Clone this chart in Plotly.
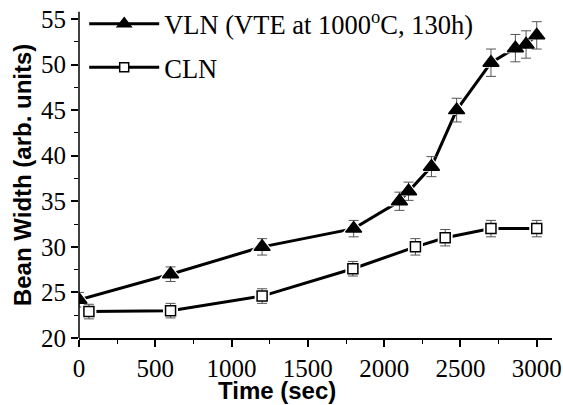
import plotly.graph_objects as go

vln_x = [0, 600, 1200, 1800, 2100, 2160, 2310, 2475, 2700, 2860, 2930, 3000]
vln_y = [24.2, 27.0, 30.0, 32.0, 35.0, 36.1, 38.8, 45.0, 50.2, 51.8, 52.2, 53.2]
vln_err = [0.8, 0.8, 0.9, 0.9, 1.0, 1.0, 1.1, 1.3, 1.5, 1.5, 1.5, 1.5]

cln_x = [65, 600, 1200, 1795, 2205, 2400, 2700, 3000]
cln_y = [22.9, 23.0, 24.6, 27.6, 30.0, 31.0, 32.0, 32.0]
cln_err = [0.8, 0.8, 0.8, 0.8, 0.9, 0.9, 0.9, 0.9]

x_ticks = [0, 500, 1000, 1500, 2000, 2500, 3000]
y_ticks = [20, 25, 30, 35, 40, 45, 50, 55]

x_title = "Time (sec)"
y_title = "Bean Width (arb. units)"

SERIF = "Liberation Serif"
SANS = "Liberation Sans"

fig = go.Figure()

def add_series(x, y, err, name, symbol, size, fill, halo_size, leg_size):
    fig.add_trace(go.Scatter(x=x, y=y, mode="lines", line=dict(color="black", width=3),
                             showlegend=False, hoverinfo="skip"))
    fig.add_trace(go.Scatter(x=x, y=y, mode="markers",
                             marker=dict(symbol=symbol, size=halo_size, color="white",
                                         line=dict(width=0)),
                             showlegend=False, hoverinfo="skip"))
    fig.add_trace(go.Scatter(x=x, y=y, mode="markers",
                             marker=dict(symbol=symbol, size=size, color=fill,
                                         line=dict(color="black", width=1.5)),
                             error_y=dict(type="data", array=err, visible=True,
                                          color="#555555", thickness=1, width=5),
                             showlegend=False))
    fig.add_trace(go.Scatter(x=[None], y=[None], mode="lines+markers", name=name,
                             line=dict(color="black", width=3),
                             marker=dict(symbol=symbol, size=leg_size, color=fill,
                                         line=dict(color="black", width=1.5)),
                             legendgroup=name))

add_series(vln_x, vln_y, vln_err, "VLN (VTE at 1000<sup>o</sup>C, 130h)",
           "triangle-up", 14, "black", 20, 12)
add_series(cln_x, cln_y, cln_err, "CLN", "square", 10, "white", 15, 9)

def axis_style():
    return dict(
        linecolor="black", linewidth=1.5,
        ticks="outside", ticklen=7, tickwidth=1.5, tickcolor="black",
        showgrid=False, zeroline=False, mirror=False, automargin=False,
        tickfont=dict(family=SERIF, size=25, color="black"),
    )

fig.update_layout(
    width=563, height=405,
    margin=dict(l=79, r=11, t=0, b=67),
    paper_bgcolor="white", plot_bgcolor="white",
    font=dict(family=SERIF, color="black"),
    showlegend=True,
    legend=dict(x=0.011, y=1.0, xanchor="left", yanchor="top",
                bgcolor="rgba(0,0,0,0)", borderwidth=0,
                font=dict(family=SERIF, size=26.5, color="black"),
                traceorder="grouped", tracegroupgap=6, itemwidth=70),
    xaxis=dict(range=[0, 3100], tickvals=x_ticks, showline=True,
               minor=dict(ticks="outside", ticklen=4, tickwidth=1, tickcolor="black", dtick=250),
               **axis_style()),
    yaxis=dict(range=[20, 57.08], tickvals=y_ticks, showline=False,
               minor=dict(ticks="outside", ticklen=4, tickwidth=1, tickcolor="black", dtick=2.5),
               **axis_style()),
    shapes=[
        # left axis spine, ending just above the top tick as in the original
        dict(type="line", xref="paper", yref="y", x0=0, x1=0, y0=20, y1=55.8,
             line=dict(color="black", width=1.5), layer="above"),
    ],
    annotations=[
        dict(text="<b>" + x_title + "</b>", xref="paper", yref="paper",
             x=0.4186, y=-0.154, xanchor="center", yanchor="middle", showarrow=False,
             font=dict(family=SANS, size=24, color="black")),
        dict(text="<b>" + y_title + "</b>", xref="paper", yref="paper",
             x=-0.1205, y=0.482, xanchor="center", yanchor="middle", showarrow=False,
             textangle=-90, font=dict(family=SANS, size=24, color="black")),
    ],
)

fig.write_html("out.html", config={"displayModeBar": False},
               post_script="document.body.style.margin='0';document.body.style.overflow='hidden';")
